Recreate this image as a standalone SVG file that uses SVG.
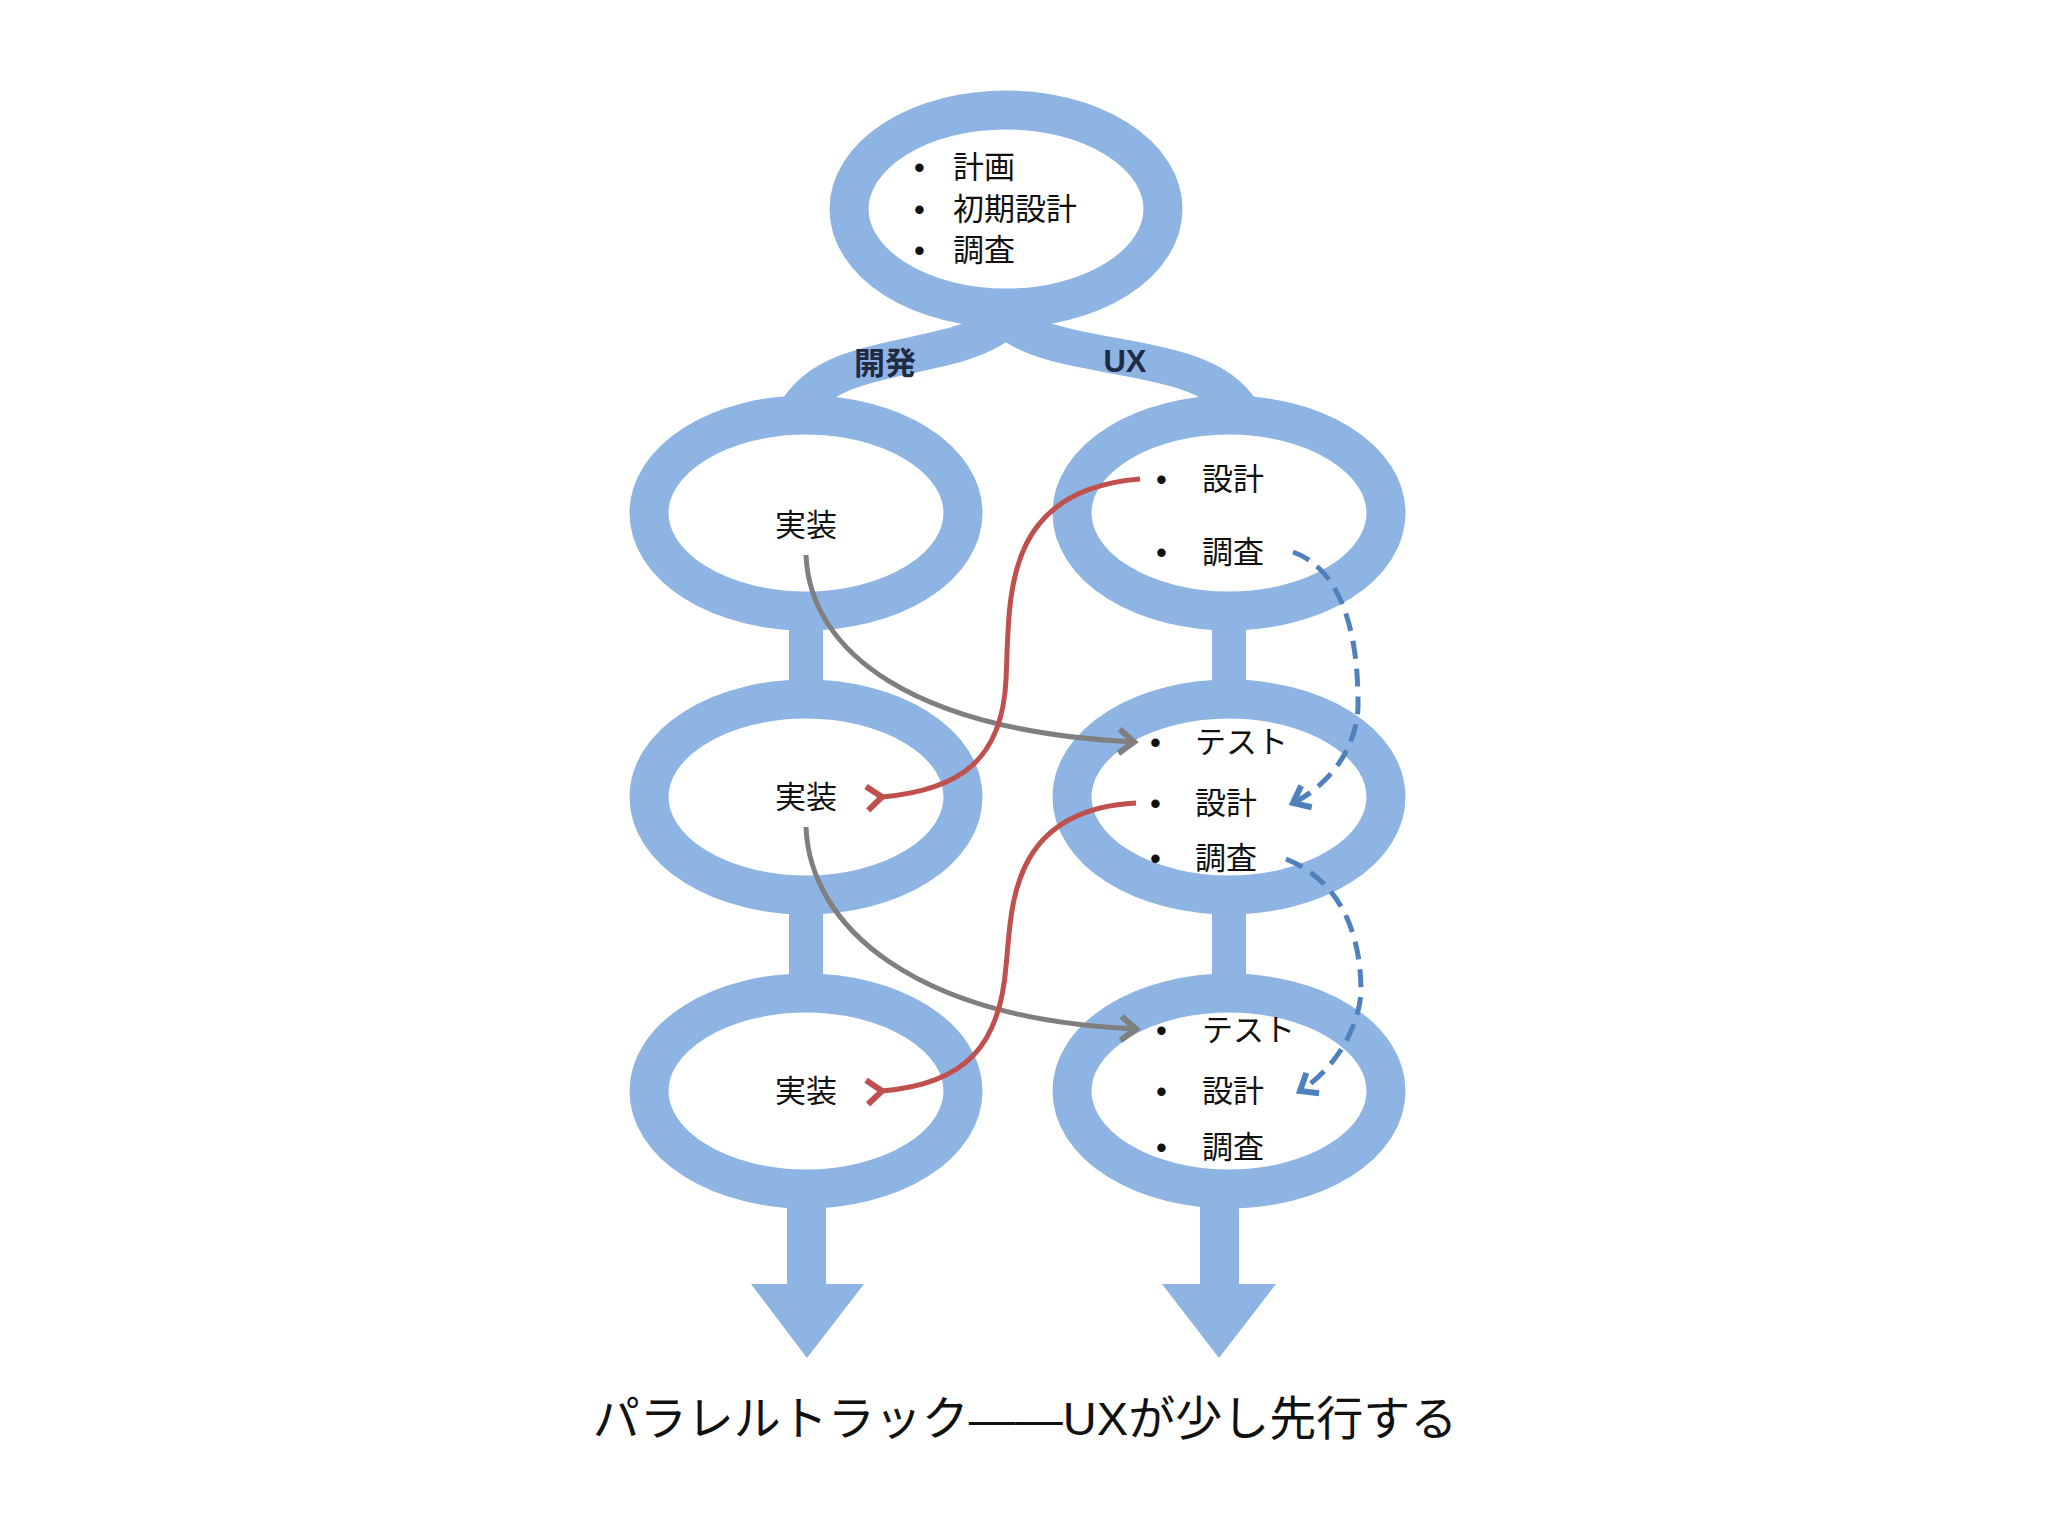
<svg xmlns="http://www.w3.org/2000/svg" width="2048" height="1536" viewBox="0 0 2048 1536">
<defs>
<style>
.ring{fill:#fff;stroke:#8EB4E3;stroke-width:39}
.band{fill:none;stroke:#8EB4E3;stroke-width:36}
.t{font-family:"Liberation Sans","Noto Sans CJK JP",sans-serif;font-size:31px;fill:#111}
.b{font-family:"Liberation Sans","Noto Sans CJK JP",sans-serif;font-size:31px;font-weight:bold;fill:#1F2A44}
.red{fill:none;stroke:#C0504D;stroke-width:5}
.gray{fill:none;stroke:#7F7F7F;stroke-width:5}
.blue{fill:none;stroke:#4F81BD;stroke-width:5;stroke-dasharray:18 10}
</style>
<marker id="mr" viewBox="0 0 20 20" refX="4" refY="10" markerWidth="6" markerHeight="6" orient="auto" markerUnits="strokeWidth"><path d="M14,2 L4,10 L14,18" fill="none" stroke="#C0504D" stroke-width="4"/></marker>
<marker id="mg" viewBox="0 0 20 20" refX="16" refY="10" markerWidth="6" markerHeight="6" orient="auto" markerUnits="strokeWidth"><path d="M6,2 L16,10 L6,18" fill="none" stroke="#7F7F7F" stroke-width="4"/></marker>
<marker id="mb" viewBox="0 0 20 20" refX="16" refY="10" markerWidth="6" markerHeight="6" orient="auto" markerUnits="strokeWidth"><path d="M6,2 L16,10 L6,18" fill="none" stroke="#4F81BD" stroke-width="4"/></marker>
</defs>
<rect width="2048" height="1536" fill="#fff"/>
<g id="structure">
<path class="band" d="M1006,320 C953,366 836,346 797,410"/>
<path class="band" d="M1006,320 C1058,366 1202,346 1241,410"/>
<rect x="789" y="600" width="34" height="110" fill="#8EB4E3"/>
<rect x="1212" y="600" width="34" height="110" fill="#8EB4E3"/>
<rect x="789" y="880" width="34" height="120" fill="#8EB4E3"/>
<rect x="1212" y="880" width="34" height="120" fill="#8EB4E3"/>
<rect x="787" y="1180" width="39" height="110" fill="#8EB4E3"/>
<rect x="1200" y="1180" width="39" height="110" fill="#8EB4E3"/>
<polygon points="751,1284 864,1284 807,1358" fill="#8EB4E3"/>
<polygon points="1162,1284 1276,1284 1219,1358" fill="#8EB4E3"/>
</g>
<g id="top"><ellipse class="ring" cx="1006" cy="209" rx="157" ry="99"/>
<text class="t" x="914" y="178">•</text><text class="t" x="953" y="178">計画</text>
<text class="t" x="914" y="220">•</text><text class="t" x="953" y="220">初期設計</text>
<text class="t" x="914" y="261">•</text><text class="t" x="953" y="261">調査</text></g>
<g id="labels"><text class="b" x="885" y="374" text-anchor="middle">開発</text><text class="b" x="1125" y="372" text-anchor="middle">UX</text></g>
<g id="dev1"><ellipse class="ring" cx="806" cy="513" rx="157" ry="98"/><text class="t" x="806" y="536" text-anchor="middle">実装</text></g>
<g id="dev2"><ellipse class="ring" cx="806" cy="797" rx="157" ry="98"/><text class="t" x="806" y="808" text-anchor="middle">実装</text></g>
<g id="dev3"><ellipse class="ring" cx="806" cy="1091" rx="157" ry="98"/><text class="t" x="806" y="1102" text-anchor="middle">実装</text></g>
<g id="ux1"><ellipse class="ring" cx="1229" cy="513" rx="157" ry="98"/>
<text class="t" x="1156" y="490">•</text><text class="t" x="1202" y="490">設計</text>
<text class="t" x="1156" y="563">•</text><text class="t" x="1202" y="563">調査</text></g>
<g id="ux2"><ellipse class="ring" cx="1229" cy="797" rx="157" ry="98"/>
<text class="t" x="1150" y="753">•</text><text class="t" x="1195" y="753">テスト</text>
<text class="t" x="1150" y="814">•</text><text class="t" x="1195" y="814">設計</text>
<text class="t" x="1150" y="869">•</text><text class="t" x="1195" y="869">調査</text></g>
<g id="ux3"><ellipse class="ring" cx="1229" cy="1091" rx="157" ry="98"/>
<text class="t" x="1156" y="1041">•</text><text class="t" x="1202" y="1041">テスト</text>
<text class="t" x="1156" y="1102">•</text><text class="t" x="1202" y="1102">設計</text>
<text class="t" x="1156" y="1158">•</text><text class="t" x="1202" y="1158">調査</text></g>
<g id="connectors">
<path class="gray" marker-end="url(#mg)" d="M806,555 C810,653 914,731 1134,742"/>
<path class="gray" marker-end="url(#mg)" d="M806,827 C810,927 914,1019 1136,1029"/>
<path class="red" marker-end="url(#mr)" d="M1140,479 C1000,490 1010,600 1006,680 C1002,760 960,790 882,797"/>
<path class="red" marker-end="url(#mr)" d="M1136,803 C1006,810 1012,914 1006,966 C1000,1045 966,1084 882,1091"/>
<path class="blue" marker-end="url(#mb)" d="M1293,552 C1358,575 1358,679 1358,705 C1358,744 1332,784 1293,803"/>
<path class="blue" marker-end="url(#mb)" d="M1286,859 C1358,888 1361,966 1361,993 C1358,1032 1332,1071 1300,1091"/>
</g>
<text class="t" x="1025" y="1435" text-anchor="middle" style="font-size:47px">パラレルトラック——UXが少し先行する</text>
</svg>
